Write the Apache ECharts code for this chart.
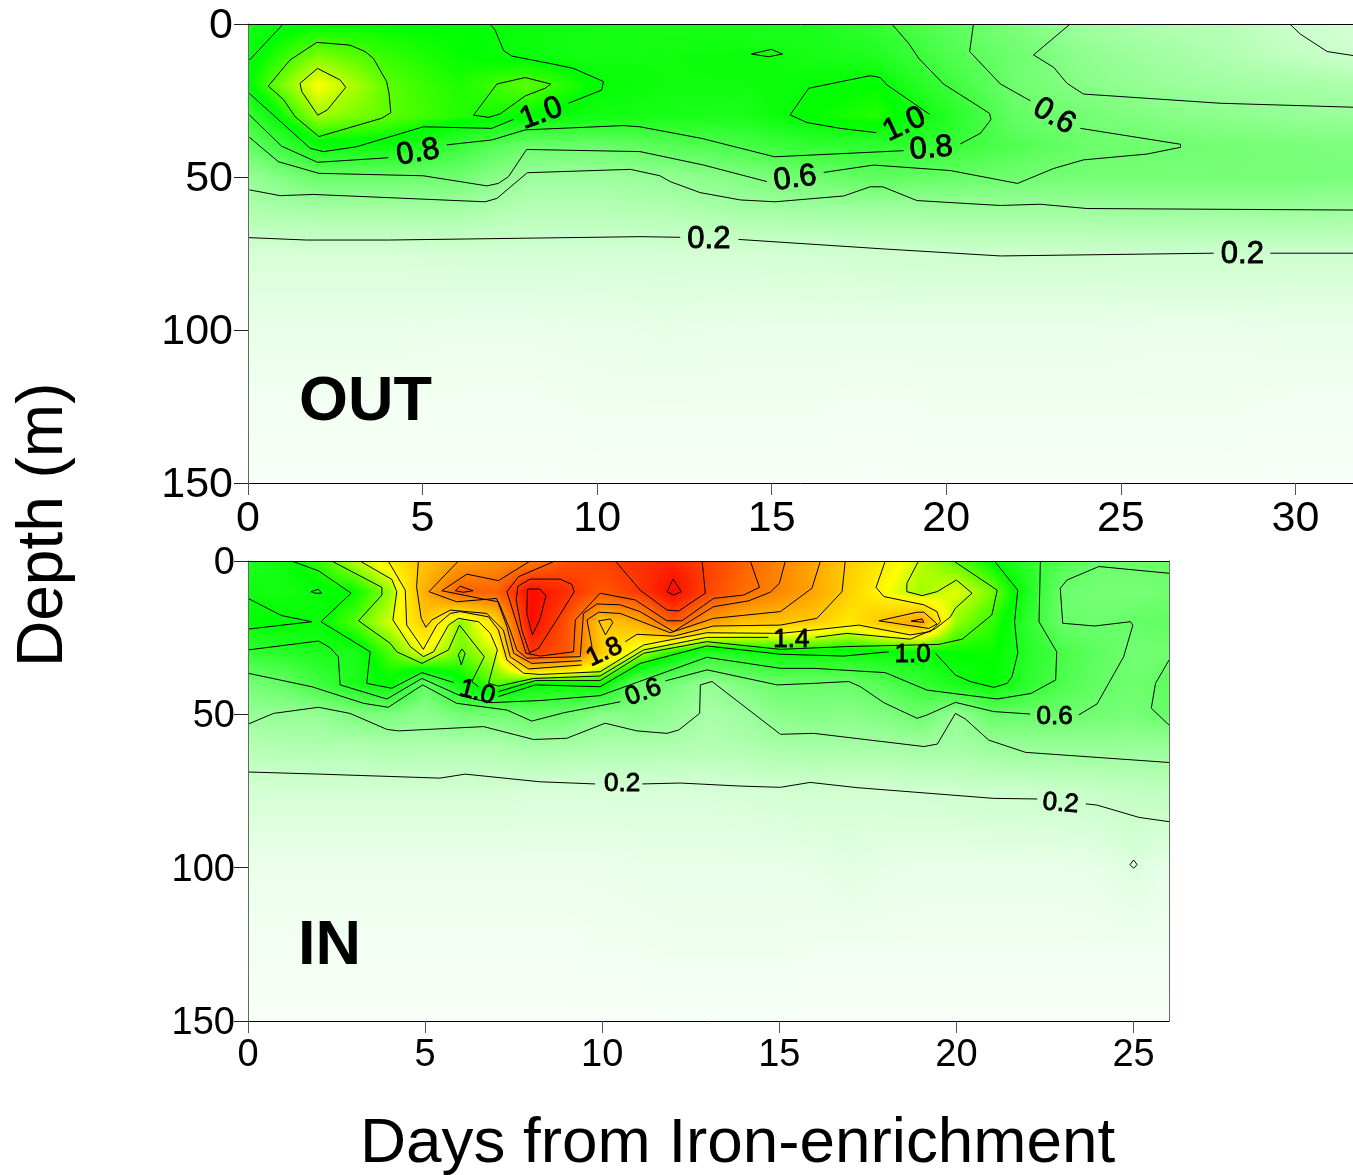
<!DOCTYPE html>
<html><head><meta charset="utf-8">
<style>html,body{margin:0;padding:0;background:#fff}#c{width:1353px;height:1175px}</style>
<script src="https://cdn.jsdelivr.net/npm/echarts@6/dist/echarts.min.js"></script>
</head><body><div id="c"></div>
<script>
const depths=[0,10,20,30,40,50,60,75,100,125,150];
const outDays=[0,2,4,6,8,10,12,14,16,18,20,22,24,26,28,30,31.65];
const inDays=[0,1,2,3,4,5,6,7,8,9,10,11,12,13,14,15,16,17,18,19,20,21,22,23,24,25,26];
const xTicksOut=[0,5,10,15,20,25,30];
const xTicksIn=[0,5,10,15,20,25];

const outValues=[
[.95,1.02,1.03,1.02,.98,.95,.93,.93,.92,.83,.66,.52,.38,.32,.28,.2,.17],
[.98,1.25,1.12,1.04,.98,.95,.97,.98,.95,.9,.72,.58,.45,.38,.32,.25,.2],
[1.02,1.5,1.2,1.08,1.2,1.02,.97,.97,1.0,1.03,.8,.58,.48,.42,.38,.36,.34],
[.8,1.32,1.2,1.1,1.03,.96,.94,.92,1.03,1.1,.9,.62,.56,.5,.46,.43,.41],
[.62,.98,.98,.8,.6,.6,.68,.74,.83,.84,.82,.7,.6,.58,.56,.54,.52],
[.42,.6,.6,.58,.4,.39,.43,.5,.58,.65,.62,.58,.56,.55,.55,.55,.54],
[.34,.37,.37,.37,.3,.3,.32,.37,.39,.39,.4,.4,.4,.41,.41,.41,.4],
[.16,.16,.16,.17,.17,.17,.17,.17,.18,.19,.2,.2,.2,.2,.2,.2,.2],
[.09,.09,.09,.08,.08,.09,.1,.09,.09,.09,.09,.09,.09,.08,.08,.09,.09],
[.05,.05,.05,.05,.05,.06,.06,.06,.06,.05,.06,.06,.06,.06,.06,.05,.05],
[.03,.03,.03,.03,.03,.03,.03,.03,.03,.03,.03,.03,.03,.03,.03,.03,.03]];

const inValues=[
[.9,.97,1.13,1.36,1.6,1.82,2.0,2.1,2.2,2.45,2.55,2.65,2.7,2.55,2.37,2.17,1.97,1.77,1.6,1.38,1.2,1.02,.85,.7,.6,.6,.6],
[.97,.96,.99,1.03,1.3,1.95,2.4,2.35,2.85,2.65,2.42,2.58,2.85,2.52,2.3,2.16,1.98,1.75,1.5,1.32,1.45,1.25,.92,.6,.55,.55,.58],
[1.02,1.03,1.0,1.18,1.42,1.78,1.28,1.7,2.85,2.45,1.78,1.95,2.42,2.05,1.85,1.82,1.78,1.62,1.85,2.02,1.3,1.12,.85,.6,.59,.62,.64],
[.82,.87,.92,.92,1.17,1.47,1.22,1.42,2.6,2.42,1.78,1.37,1.05,.87,.93,.99,.98,.97,.99,.99,1.03,1.05,.88,.74,.65,.56,.58],
[.55,.62,.78,.92,1.02,.63,.98,1.2,1.02,1.0,1.05,.6,.55,.42,.52,.6,.6,.6,.7,.82,.93,1.02,.85,.72,.62,.58,.65],
[.42,.43,.42,.53,.53,.47,.57,.56,.62,.6,.47,.5,.43,.35,.39,.48,.5,.48,.52,.6,.42,.62,.6,.6,.57,.55,.62],
[.3,.32,.33,.32,.34,.33,.33,.33,.37,.36,.34,.34,.33,.31,.33,.36,.37,.37,.37,.38,.37,.41,.43,.43,.43,.42,.42],
[.17,.17,.17,.17,.17,.17,.17,.17,.16,.16,.16,.16,.16,.16,.17,.18,.19,.18,.18,.19,.2,.21,.21,.22,.23,.25,.26],
[.08,.08,.08,.08,.08,.08,.08,.08,.08,.08,.08,.09,.09,.09,.09,.09,.1,.12,.1,.09,.09,.09,.09,.09,.1,.14,.09],
[.05,.05,.05,.05,.05,.05,.05,.05,.05,.05,.06,.06,.07,.07,.07,.07,.06,.06,.06,.06,.06,.06,.06,.06,.06,.06,.06],
[.03,.03,.03,.03,.03,.03,.03,.03,.03,.03,.03,.03,.03,.03,.03,.03,.03,.03,.03,.03,.03,.03,.03,.03,.03,.03,.03]];

const colorStops=[[0,[255,255,255]],[1.03,[0,255,0]],[1.5,[255,255,0]],[2.9,[255,0,0]]];

/* contour lines, [day, depth] */
const outContours=[
[[0,69.8],[1.68,70.6],[4.02,70.6],[11.23,69.5],[12.38,69.7]],
[[14.05,70.4],[18.2,73.5],[21.55,75.8],[27.66,74.9]],
[[29.28,74.9],[31.65,74.9]],
[[0.04,54.2],[0.92,56.1],[1.87,55.7],[6.79,58.1],[7.13,57],[8,48.6],[10.95,47.5],[11.8,49.6],[12.09,51.5],[12.95,55.1],[14.1,57.5],[15.1,58.1],[17.06,56.2],[17.82,53.2],[18.18,53.2],[19.16,57.7],[20.78,58.8],[21.55,59.3],[22.69,58.9],[24.03,60.3],[31.65,60.8]],
[[0.04,37],[0.87,45],[2.03,48.8],[5.02,49.6],[6.84,52.9],[7.17,52.1],[7.46,49.9],[7.98,41],[11.23,41.7],[13.05,46.1],[14.86,51.5]],
[[16.49,48.5],[17.92,46.1],[20.12,47.9],[22.04,52.1],[23.08,47.2],[23.93,44.4],[25.75,42.5],[26.71,40.3],[26.71,39.3],[23.84,34.1]],
[[22.41,25.1],[21.55,19.6],[20.67,9],[20.78,0]],
[[23.55,0],[22.5,10.1],[23.08,14.2],[23.46,19.4],[23.93,22.9],[27.85,25.9],[31.65,27.2]],
[[29.84,0],[30.14,3.3],[30.91,9],[31.65,10.3]],
[[0.04,29.7],[0.96,39.9],[1.99,45.2],[4.02,43.7]],
[[5.69,39.5],[6.98,37.9],[7.94,34.6],[10.75,33.2],[11.23,33.6],[13,37.4],[15.08,43.4],[18.78,41.4]],
[[20.4,39.2],[20.98,35.7],[21.28,31.2],[21.24,29.2],[19.92,19.6],[19.21,11.2],[18.92,6.3],[18.44,0]],
[[6.93,0],[7.08,2],[7.32,8.7],[7.56,10.5],[8.65,12.9],[9.32,14.5],[10.18,18.8],[10.13,21.6],[9.18,25.9]],
[[7.6,31.2],[6.98,34.1],[5.02,33.6],[3.11,40.1],[2.16,41.7],[1.78,40.6],[0.04,22.7]],
[[1.01,0],[0.04,11.8]],
[[15.53,29.7],[16.06,21],[17.82,16.9],[18.11,17.5],[18.3,19.9],[19.52,29.5]],
[[17.99,35.5],[16.96,34.1],[16.01,32.2],[15.53,29.7]],
[[14.41,9.8],[14.99,8.3],[15.31,9.8],[14.91,10.7],[14.41,9.8]],
[[0.58,20.3],[1.2,11.8],[1.97,6],[2.92,6.9],[3.35,9],[3.59,11.2],[3.97,18.8],[4.04,22.7],[4.09,29],[3.83,30.8],[2.03,36.8],[1.35,30.3],[1.01,24.6],[0.58,20.3]],
[[1.49,19.4],[1.99,14.5],[2.64,18.3],[2.8,20.7],[2.27,28.1],[2,29.8],[1.54,22.1],[1.49,19.4]],
[[7.13,19.6],[7.94,17.5],[8.67,19.6],[8.51,21],[7.94,23.5],[7.22,29.4],[6.89,30.5],[6.46,29.8],[7.13,19.6]]
];
const inContours=[
[[0,68.8],[2.03,69.5],[5.42,70.8],[6.13,69.5],[8.25,72],[9.8,72.7]],
[[11.13,72.7],[12.2,72.4],[13.9,73.4],[15.03,73.8],[15.87,72.2],[17.19,73.9],[21.05,77.4],[22.28,77.6]],
[[23.65,79.2],[23.97,79.6],[25.15,83.6],[26,85]],
[[0,53.2],[0.72,49.7],[1.99,47.7],[2.88,49.7],[3.92,54.9],[4.25,55.4],[6.65,54],[8.06,58.2],[9,57.8],[10.08,52.9],[10.98,55.4],[11.83,56.2],[12.16,55.1],[12.75,49.7],[12.77,40.4],[13.1,39.3],[15.03,56.5],[15.97,56.2],[19.08,60.5],[19.46,59.7],[19.97,49.7],[20.25,51.5],[20.91,58.4],[21.95,62.4],[26,65.7]],
[[0,36.6],[1.8,41],[3.26,46.4],[3.96,47.7],[4.93,40.4],[5.89,46.4],[7.31,48.6],[8.01,52.2],[8.91,49.5],[10.51,45.9]],
[[11.78,39.1],[12.96,35.5],[14.94,40.4],[15.97,39.9],[16.96,39.3],[17.29,41],[17.95,46.2],[18.89,51.3],[19.17,50.2],[19.97,46.1],[21.05,49.1],[22.08,49.9]],
[[23.45,50.2],[23.97,46.6],[24.72,31.2],[24.98,20.9],[24.91,19.8],[23.9,21.2],[23,20.3],[22.93,8.9],[23.12,6.2],[24.02,1.8],[26,4]],
[[26,32.3],[25.62,39.9],[25.5,48],[26,53.5]],
[[0,29],[1.99,26.1],[2.32,28.3],[2.55,31.2],[2.6,40.4],[3.92,45],[4.91,38.3],[5.99,43.9],[6.84,46.2],[8.25,45.5],[9.94,43.9],[12.95,31.4],[15.03,35],[15.97,35],[17.99,36.4],[19.17,42.1],[21.15,45],[22.1,43.2],[22.8,38.8],[22.83,29.6],[22.33,19.8],[22.37,0]],
[[1.23,0],[1.99,3.2],[2.91,10.5],[2.06,19.8],[3.45,29.6],[3.35,39.9],[4.06,41.5],[4.91,36.4],[5.8,39.6]],
[[7.07,44.2],[8.11,40.4],[9.94,41],[11.07,33.4],[12.95,27.7],[15.03,30.4],[16.82,31],[18.09,29.6]],
[[19.41,30.1],[19.97,37.2],[20.39,39.3],[21.05,41.2],[21.43,39.9],[21.57,37.7],[21.73,30.1],[21.64,19.8],[21.73,9.5],[21.07,0]],
[[0,12.2],[0.95,17.8],[1.8,19.8],[0,22.2]],
[[1.78,10],[1.99,9.2],[2.08,10.5],[1.89,10.5],[1.78,10]],
[[2.36,0],[3.78,8.6],[3.78,11.1],[3.12,19.5],[4.01,26.8],[4.2,29.6],[4.91,33.4],[5.66,29],[5.97,20.9],[6.67,31.2],[6.32,39.3],[6.51,41]],
[[7.07,42.6],[8.11,39],[9.94,39],[11.17,30.1],[12.95,26.3],[15.03,28.8],[16.91,27.9],[19.5,27.2],[20.16,25.5],[21,17.6],[21.15,9.5],[19.92,0]],
[[6.04,28.7],[6.13,30.1],[6.02,33.9],[5.94,30.6],[6.04,28.7]],
[[3.16,0],[4.06,6],[4.2,10],[4.09,19.2],[4.58,27.9],[4.95,31.2],[5.24,29.6],[5.66,20.9],[5.94,18.7],[6.51,19.8],[6.84,23.6],[7.04,29],[6.79,39.9],[7.07,40.8],[8.06,38.3],[9.94,37.5],[11.17,29],[12.95,24.9],[14.69,24.9]],
[[16.02,24.9],[16.91,23.6],[18.7,25.5],[19.41,22],[19.83,18.2],[19.97,15.4],[20.44,10.5],[20,6.2],[19.45,10],[19.03,11.3],[18.6,10],[18.6,7.3],[18.93,0]],
[[3.96,0],[4.44,9.5],[4.48,20.9],[4.95,28.8],[5.33,20.9],[5.71,17.1],[5.99,16.5],[6.79,18.2],[7.07,22.5],[7.31,32.3],[7.78,36.6],[8.25,37],[9.94,36.1],[11.17,27.4],[12.95,23.4],[15.03,23.6],[15.97,22.5],[17.24,20.9],[18.7,24.1],[19.27,23],[19.55,19.8],[19.45,16.5],[19.08,14.3],[17.95,11.6],[17.73,8.6],[17.99,0]],
[[4.81,0],[4.76,8.4],[4.89,18.7],[5.02,21.6],[5.19,19.2],[5.71,16],[6.74,17.1],[7.21,22.5],[7.4,31.2],[7.92,35.2],[9.42,33.9]],
[[10.65,26.3],[10.98,23.9],[12.02,24.5],[13.14,21.2],[15.03,20.9],[16.06,18.7],[16.77,10],[16.86,0]],
[[5.94,0],[5.11,10],[5.89,13.3],[7.02,12.2],[7.31,21.4],[7.5,30.1],[8.01,33.4],[9.42,32.5]],
[[9.71,27.9],[9.57,19.2],[9.9,16.7],[10.51,17.1],[11.92,23.4],[13.14,18.7],[15.03,16.5],[15.92,8.9],[16.16,0]],
[[7.97,0],[7.07,6.4],[6.18,4.3],[5.47,9.7],[6.55,12.2],[7.07,13.3],[7.4,22.5],[7.59,29],[7.87,31.7],[9.38,31.2],[9.47,17.1],[9.85,14],[10.51,14.3],[11.07,16.5],[12.01,23],[13.14,14.9],[14.13,13],[14.74,10.2],[15,7.3],[15.17,0]],
[[14.18,0],[14.44,8.6],[13.99,11.1],[13.14,12.2],[12.25,19.5],[11.83,19.5],[10.93,12.7],[9.94,10.5],[9.24,19.2],[9.19,29.6],[8.25,31],[7.85,30.1],[7.31,10],[7.64,5.1],[8.67,0]],
[[7.97,5.9],[8.81,5.9],[9.14,7.6],[9.21,10],[8.77,18.2],[8.2,28.5],[7.95,29.9],[7.73,22.5],[7.57,12.7],[7.62,8.2],[7.97,5.9]],
[[7.89,9.2],[8.23,9.1],[8.41,11.3],[8.25,18.7],[8.03,24.1],[7.87,17.1],[7.89,9.2]],
[[10.37,0],[11.07,9.5],[11.83,16],[12.16,16.3],[12.91,10.5],[12.82,0]],
[[11.83,10],[12,5.9],[12.23,10],[12.02,11.1],[11.83,10]],
[[9.9,19.5],[10.23,18.9],[10.3,20.1],[10.09,24.1],[9.9,19.5]],
[[5.85,9.7],[5.99,8.2],[6.35,9.7],[6.08,10.2],[5.85,9.7]],
[[17.81,19.5],[18.89,16.7],[19.08,16.7],[19.45,20.5],[19.22,22],[17.81,19.5]],
[[18.72,19.6],[19.03,18.9],[19.08,20],[18.72,19.6]],
[[25,97.5],[25.1,99],[25,100.2],[24.9,99],[25,97.5]]
];
/* contour labels: day, depth, rotation, text */
const outLabels=[[4.87,42,10,'0.8'],[8.4,29.3,20,'1.0'],[18.8,32.9,25,'1.0'],[19.57,40.7,5,'0.8'],[15.67,50.5,8,'0.6'],[23.09,30.2,-30,'0.6'],[13.2,70.4,0,'0.2'],[28.48,75.3,0,'0.2']];
const inLabels=[[10.56,72.5,0,'0.2'],[22.94,79.1,-5,'0.2'],[22.77,50.7,0,'0.6'],[11.16,42.9,20,'0.6'],[10.06,29.8,25,'1.8'],[15.34,25.6,0,'1.4'],[18.76,30.5,0,'1.0'],[6.47,42.9,-15,'1.0']];

function ramp(v){
  let i=0; while(i<colorStops.length-2&&v>colorStops[i+1][0])i++;
  const a=colorStops[i],b=colorStops[i+1];
  const t=Math.max(0,Math.min(1,(v-a[0])/(b[0]-a[0])));
  return [0,1,2].map(k=>a[1][k]+(b[1][k]-a[1][k])*t);
}
function cellImage(w,h,v00,v10,v01,v11){
  const cv=document.createElement('canvas');cv.width=w;cv.height=h;
  const ctx=cv.getContext('2d'),img=ctx.createImageData(w,h);
  for(let y=0;y<h;y++){const t=(y+.5)/h;
    for(let x=0;x<w;x++){const u=(x+.5)/w;
      const v=(v00*(1-u)+v10*u)*(1-t)+(v01*(1-u)+v11*u)*t;
      const c=ramp(v),p=(y*w+x)*4;
      img.data[p]=c[0];img.data[p+1]=c[1];img.data[p+2]=c[2];img.data[p+3]=255;}}
  ctx.putImageData(img,0,0);return cv;
}
function cells(days,vals){
  const out=[];
  for(let j=0;j<depths.length-1;j++)for(let i=0;i<days.length-1;i++)
    out.push([days[i],depths[j],days[i+1],depths[j+1],vals[j][i],vals[j][i+1],vals[j+1][i],vals[j+1][i+1]]);
  return out;
}
function fillSeries(idx,days,vals){
  return {type:'custom',xAxisIndex:idx*2,yAxisIndex:idx*2,silent:true,z:1,animation:false,
    encode:{x:[0,2],y:[1,3]},data:cells(days,vals),
    renderItem(p,api){
      const a=api.coord([api.value(0),api.value(1)]),b=api.coord([api.value(2),api.value(3)]);
      const x=Math.round(a[0]),y=Math.round(a[1]),w=Math.round(b[0])-x,h=Math.round(b[1])-y;
      if(w<=0||h<=0)return;
      return {type:'image',style:{image:cellImage(w,h,api.value(4),api.value(5),api.value(6),api.value(7)),x,y,width:w,height:h}};
    }};
}
function lineSeries(idx,list){
  return list.map(d=>({type:'line',xAxisIndex:idx*2,yAxisIndex:idx*2,data:d,showSymbol:false,silent:true,z:3,animation:false,
    lineStyle:{color:'#000',width:1}}));
}
function labelSeries(idx,list,size){
  return {type:'scatter',xAxisIndex:idx*2,yAxisIndex:idx*2,silent:true,z:4,animation:false,symbolSize:1,itemStyle:{color:'rgba(0,0,0,0)',opacity:1},
    data:list.map(l=>({value:[l[0],l[1]],label:{rotate:l[2],formatter:l[3]}})),
    label:{show:true,position:'inside',color:'#000',opacity:1,fontFamily:'Liberation Sans',fontSize:size,textBorderColor:'#000',textBorderWidth:.9}};
}
const axisFont='Liberation Sans';
function axes(top,height,left,width,xMax,ticks,xSize,ySize,xMargin,yMargin,idx){
  const edge='#5f6b5f';
  return {
   grid:{left,top,width,height},
   xAxis:[
    {gridIndex:idx,type:'value',min:0,max:xMax,position:'bottom',splitLine:{show:false},z:5,
     axisLine:{onZero:false,lineStyle:{color:'#000',width:1}},
     axisTick:{customValues:ticks,length:12,lineStyle:{color:'#555',width:1}},
     axisLabel:{customValues:ticks,color:'#000',fontFamily:axisFont,fontSize:xSize,margin:xMargin}},
    {gridIndex:idx,type:'value',min:0,max:xMax,position:'top',splitLine:{show:false},z:5,
     axisLine:{onZero:false,lineStyle:{color:'#000',width:1}},axisTick:{show:false},axisLabel:{show:false}}
   ],
   yAxis:[
    {gridIndex:idx,type:'value',inverse:true,min:0,max:150,interval:50,position:'left',splitLine:{show:false},z:5,
     axisLine:{onZero:false,lineStyle:{color:edge,width:1}},
     axisTick:{length:14,lineStyle:{color:'#222',width:1}},
     axisLabel:{margin:yMargin,formatter:'{t|{value}}',
       rich:{t:{color:'#000',fontFamily:axisFont,fontSize:ySize,padding:[5,0,0,0]}}}},
    {gridIndex:idx,type:'value',inverse:true,min:0,max:150,position:'right',splitLine:{show:false},z:5,
     axisLine:{show:idx===1,onZero:false,lineStyle:{color:edge,width:1}},axisTick:{show:false},axisLabel:{show:false}}
   ]};
}
const A=axes(24,459,248,1105,31.65,xTicksOut,43,43,15,15,0);
const B=axes(561,460,248,921,26,xTicksIn,38,38,16,13,1);
const chart=echarts.init(document.getElementById('c'),null,{renderer:'canvas'});
chart.setOption({
  animation:false,backgroundColor:'#fff',
  grid:[A.grid,B.grid],
  xAxis:[...A.xAxis,...B.xAxis],
  yAxis:[...A.yAxis,...B.yAxis],
  series:[fillSeries(0,outDays,outValues),fillSeries(1,inDays,inValues),
    ...lineSeries(0,outContours),...lineSeries(1,inContours),
    labelSeries(0,outLabels,31),labelSeries(1,inLabels,26)],
  graphic:[
   {type:'text',x:299,y:371,z:20,style:{text:'OUT',fontFamily:axisFont,fontWeight:'bold',fontSize:63,fill:'#000'}},
   {type:'text',x:298,y:915,z:20,style:{text:'IN',fontFamily:axisFont,fontWeight:'bold',fontSize:63,fill:'#000'}},
   {type:'text',x:360,y:1112,z:20,style:{text:'Days from Iron-enrichment',fontFamily:axisFont,fontSize:63.8,fill:'#000'}},
   {type:'text',x:12,y:667,rotation:Math.PI/2,z:20,style:{text:'Depth (m)',fontFamily:axisFont,fontSize:64,fill:'#000'}}
  ]
});
</script></body></html>
